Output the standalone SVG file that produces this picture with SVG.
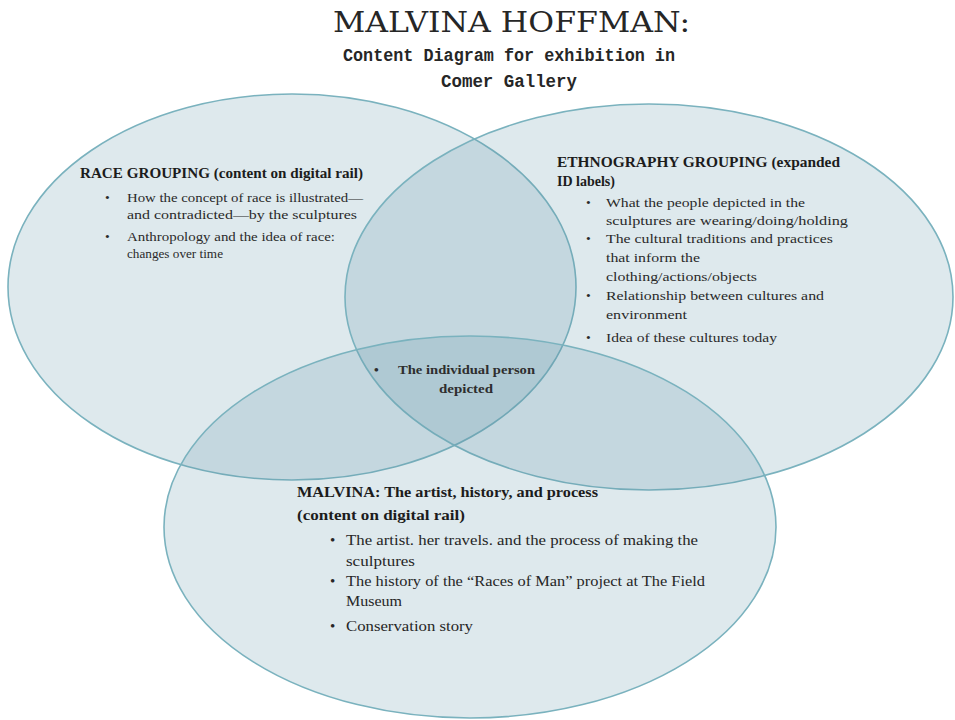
<svg xmlns="http://www.w3.org/2000/svg" width="955" height="720" viewBox="0 0 955 720">
<defs>
<style>
.ell{fill:rgb(98,150,169);fill-opacity:0.21;stroke:rgb(122,178,190);stroke-width:1.6}
.title{font-family:"DejaVu Serif","Liberation Serif",serif;font-size:27px;fill:#262626}
.sub{font-family:"Liberation Mono","DejaVu Sans Mono",monospace;font-weight:bold;font-size:18px;fill:#262626}
.h{font-family:"Liberation Serif","DejaVu Serif",serif;font-weight:bold;font-size:14.5px;fill:#1c1c1c}
.b{font-family:"Liberation Serif","DejaVu Serif",serif;font-size:13.5px;fill:#2a2a2a}
.hb{font-family:"Liberation Serif","DejaVu Serif",serif;font-weight:bold;font-size:15.5px;fill:#1c1c1c}
.bb{font-family:"Liberation Serif","DejaVu Serif",serif;font-size:15px;fill:#262626}
.c{font-family:"Liberation Serif","DejaVu Serif",serif;font-weight:bold;font-size:13.5px;fill:#2e2e2e}
</style>
</defs>
<rect width="955" height="720" fill="#ffffff"/>
<g id="title">
<text class="title" x="333" y="32" textLength="357" lengthAdjust="spacingAndGlyphs">MALVINA HOFFMAN:</text>
<text class="sub" x="343" y="61" textLength="332" lengthAdjust="spacingAndGlyphs">Content Diagram for exhibition in</text>
<text class="sub" x="441" y="87" textLength="136" lengthAdjust="spacingAndGlyphs">Comer Gallery</text>
</g>
<g id="race-grouping">
<ellipse class="ell" cx="292" cy="287" rx="284" ry="193"/>
<text class="h" x="80" y="178" textLength="283" lengthAdjust="spacingAndGlyphs">RACE GROUPING (content on digital rail)</text>
<text class="b" x="105" y="202">•</text>
<text class="b" x="127" y="202" textLength="236" lengthAdjust="spacingAndGlyphs">How the concept of race is illustrated—</text>
<text class="b" x="127" y="219" textLength="230" lengthAdjust="spacingAndGlyphs">and contradicted—by the sculptures</text>
<text class="b" x="105" y="241">•</text>
<text class="b" x="127" y="241" textLength="208" lengthAdjust="spacingAndGlyphs">Anthropology and the idea of race:</text>
<text class="b" x="127" y="258" textLength="96" lengthAdjust="spacingAndGlyphs">changes over time</text>
</g>
<g id="ethnography-grouping">
<ellipse class="ell" cx="649" cy="297" rx="304" ry="193"/>
<text class="h" x="557" y="167" textLength="283" lengthAdjust="spacingAndGlyphs">ETHNOGRAPHY GROUPING (expanded</text>
<text class="h" x="557" y="186" textLength="58" lengthAdjust="spacingAndGlyphs">ID labels)</text>
<text class="b" x="586" y="207">•</text>
<text class="b" x="606" y="207" textLength="199" lengthAdjust="spacingAndGlyphs">What the people depicted in the</text>
<text class="b" x="606" y="225" textLength="242" lengthAdjust="spacingAndGlyphs">sculptures are wearing/doing/holding</text>
<text class="b" x="586" y="243">•</text>
<text class="b" x="606" y="243" textLength="227" lengthAdjust="spacingAndGlyphs">The cultural traditions and practices</text>
<text class="b" x="606" y="262" textLength="94" lengthAdjust="spacingAndGlyphs">that inform the</text>
<text class="b" x="606" y="281" textLength="151" lengthAdjust="spacingAndGlyphs">clothing/actions/objects</text>
<text class="b" x="586" y="300">•</text>
<text class="b" x="606" y="300" textLength="218" lengthAdjust="spacingAndGlyphs">Relationship between cultures and</text>
<text class="b" x="606" y="319" textLength="81" lengthAdjust="spacingAndGlyphs">environment</text>
<text class="b" x="586" y="342">•</text>
<text class="b" x="606" y="342" textLength="171" lengthAdjust="spacingAndGlyphs">Idea of these cultures today</text>
</g>
<g id="malvina">
<ellipse class="ell" cx="470" cy="527" rx="306" ry="191"/>
<text class="hb" x="297" y="497" textLength="301" lengthAdjust="spacingAndGlyphs">MALVINA: The artist, history, and process</text>
<text class="hb" x="297" y="520" textLength="168" lengthAdjust="spacingAndGlyphs">(content on digital rail)</text>
<text class="bb" x="330" y="545">•</text>
<text class="bb" x="346" y="545" textLength="352" lengthAdjust="spacingAndGlyphs">The artist. her travels. and the process of making the</text>
<text class="bb" x="346" y="566" textLength="69" lengthAdjust="spacingAndGlyphs">sculptures</text>
<text class="bb" x="330" y="586">•</text>
<text class="bb" x="346" y="586" textLength="359" lengthAdjust="spacingAndGlyphs">The history of the “Races of Man” project at The Field</text>
<text class="bb" x="346" y="606" textLength="56" lengthAdjust="spacingAndGlyphs">Museum</text>
<text class="bb" x="330" y="631">•</text>
<text class="bb" x="346" y="631" textLength="127" lengthAdjust="spacingAndGlyphs">Conservation story</text>
</g>
<g id="individual-person">
<text class="c" x="374" y="374">•</text>
<text class="c" x="398" y="374" textLength="137" lengthAdjust="spacingAndGlyphs">The individual person</text>
<text class="c" x="439" y="393" textLength="54" lengthAdjust="spacingAndGlyphs">depicted</text>
</g>
</svg>
